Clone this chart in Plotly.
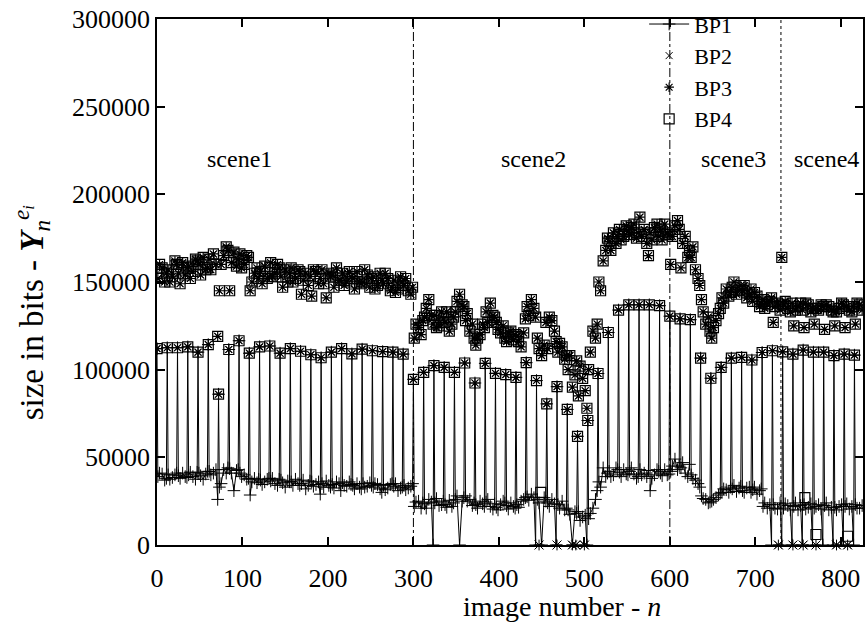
import plotly.graph_objects as go

# ---------------- data (sizes in kbit) ----------------
X_MAX = 826
GOP = 12
i_frames = list(range(0, 817, GOP))          # intra-coded image numbers
offsets = [1, 3, 6, 9, 11]                    # sampled positions inside each GOP

# I-image sizes
i_vals = [112, 112.5, 112.5, 113, 110, 114.3, 86, 111.5, 116.5, 109.4, 113, 113.5, 109.4,
          112, 110.5, 108.5, 106.8, 110, 112, 109, 111.7, 110.8, 110.3, 110, 108.9,
          94.5, 98.5, 102.3, 101.3, 98.5, 103.8, 92.4, 103.6, 97.9, 97.2, 95.6, 104, 93.8,
          80.5, 90.3, 77.3, 62, 71,
          97.8, 121.2, 134, 137, 137, 137, 136.5, 130.5, 129, 128.5, 106.6, 95.1, 101.3,
          106.6, 107, 105.5,
          109.8, 110.8, 110.2, 108.9, 111.2, 110, 110, 108, 108.9, 108.3]

# BP1 sizes of the other images (offsets 1, 3, 6, 9, 11 of each GOP)
bp1_low = [
    [39, 41, 40.5, 37, 38], [40, 37.5, 38.5, 40, 41], [39.5, 38, 41, 39, 38.5],
    [40, 41.5, 39, 37.5, 41.5], [41, 39.5, 37.5, 40.5, 42], [42, 40, 41, 43, 26],
    [33, 35, 43, 41, 44], [43.5, 41, 31, 42.5, 43], [41, 39, 40, 37.5, 38],
    [28.5, 36, 38, 35.5, 37.5], [37, 34.5, 36, 37.5, 38], [36.5, 38, 35, 34, 37.5],
    [37, 35.5, 33, 36.5, 36], [36, 34, 37.5, 35, 34], [35, 37, 32, 34, 36.5],
    [36, 33.5, 34.5, 36, 29], [35, 33, 36.5, 34, 33], [34.5, 32.5, 36, 35, 31],
    [35.5, 34, 33.5, 36, 34.5], [34, 32, 35, 33, 32], [35, 33, 33.5, 35.5, 34],
    [33, 35, 34.5, 32, 30], [34, 31.5, 32.5, 34.5, 35], [33.5, 35, 31, 32.5, 33],
    [34, 31.5, 32.5, 33.5, 35],
    [22, 24.5, 25, 21, 24], [23.5, 21, 26, 24.5, 0], [24, 26.5, 22.5, 23, 25],
    [23, 21.5, 25.5, 22, 24], [26, 28, 0, 25, 27], [28, 25, 26, 22.5, 24],
    [23, 21, 25, 23.5, 22], [24.5, 26, 22, 20.5, 23.5], [21.5, 20, 23, 25, 24],
    [22.5, 20.5, 24, 22, 21], [23, 21.5, 25, 26, 27], [27.5, 25.5, 29, 27, 0],
    [26, 24, 0, 27, 25], [24, 22, 26, 23.5, 0], [23, 21, 25, 20, 21],
    [20, 17.5, 0, 19, 18], [19, 14, 16, 17, 0], [15, 18, 21, 26, 31],
    [36, 33, 44, 39, 41], [42, 39, 40, 44, 43], [41.5, 39, 43, 40.5, 40],
    [42, 44, 40.5, 38, 39], [43, 40, 41, 39, 42.5], [31, 38, 40, 43, 42],
    [41, 39.5, 43, 40, 40.5], [42, 45, 49, 43, 45], [44, 47, 41, 39, 46],
    [40, 38, 37, 35, 33], [28, 26.5, 26, 24, 24.5], [25, 26, 27, 28.5, 29.5],
    [30, 32, 31.5, 30, 33], [32, 34, 30.5, 32.5, 33.5], [31, 30, 32.5, 33, 30],
    [31.5, 33, 29, 31, 32],
    [22, 24, 21, 23, 0], [23, 21, 20.5, 24, 0], [21, 23.5, 22.5, 20, 0],
    [22, 24, 20, 22.5, 0], [23, 20.5, 21.5, 23.5, 0], [21, 22, 23, 20.5, 0],
    [22.5, 24, 20, 21.5, 0], [21.5, 20, 22, 23, 0], [22, 23.5, 20.5, 22, 0],
    [23, 21, 21, 22.5, 22],
]

# BP2..BP4 sizes of the other images (offsets 1, 3, 6, 9, 11 of each GOP)
upper = [
    [152, 160, 158, 150, 155], [157, 150, 153, 162, 160], [155, 149, 161, 154, 158],
    [159, 152, 156, 163, 162], [160, 154, 164, 157, 158], [163, 157, 166, 160, 119],
    [145, 160, 165, 170, 168], [145, 161, 167, 159, 163], [166, 158, 160, 165, 164],
    [145, 150, 155, 158, 152], [156, 149, 159, 152, 153], [161, 153, 155, 160, 158],
    [153, 147, 157, 150, 155], [158, 150, 152, 157, 156], [143, 151, 155, 148, 153],
    [142, 157, 156, 149, 152], [157, 149, 141, 155, 153], [154, 147, 158, 151, 151],
    [155, 148, 150, 156, 153], [152, 146, 156, 150, 149], [150, 157, 154, 147, 152],
    [153, 146, 148, 155, 151], [149, 155, 152, 145, 147], [151, 144, 146, 153, 150],
    [148, 152, 145, 143, 147],
    [118, 126, 124, 120, 128], [130, 135, 140, 131, 126], [131, 124, 125, 133, 129],
    [127, 133, 122, 126, 130], [133, 139, 143, 137, 136], [128, 132, 122, 126, 118],
    [114, 118, 120, 126, 124], [133, 127, 138, 131, 130], [127, 123, 121, 125, 118],
    [116, 121, 122, 117, 120], [119, 116, 113, 121, 129], [136, 131, 140, 135, 130],
    [118, 112, 108, 114, 127], [112, 130, 128, 122, 116], [110, 115, 113, 106, 108],
    [100, 108, 90, 97, 105], [85, 102, 95, 88, 78], [100, 110, 122, 118, 126],
    [150, 145, 162, 168, 175], [173, 168, 178, 172, 176], [180, 174, 176, 182, 179],
    [177, 181, 183, 175, 178], [187, 176, 180, 172, 165], [178, 174, 181, 183, 176],
    [179, 174, 183, 178, 177], [160, 176, 182, 185, 180], [158, 172, 176, 164, 168],
    [164, 170, 157, 152, 148], [140, 133, 126, 130, 122], [118, 124, 128, 132, 135],
    [141, 138, 146, 142, 144], [147, 150, 143, 145, 148], [145, 148, 141, 143, 146],
    [139, 144, 142, 136, 138],
    [140, 135, 137, 139, 141], [127, 136, 138, 134, 164], [137, 139, 135, 133, 138],
    [125, 134, 136, 138, 134], [124, 138, 137, 133, 135], [126, 135, 134, 137, 136],
    [123, 137, 136, 134, 133], [125, 133, 135, 138, 137], [124, 136, 134, 133, 136],
    [126, 138, 137, 134, 135],
]

# skipped images (size 0) for BP2 / BP3, and low BP4 values
bp23_zero_frames = [447, 468, 486, 490, 500, 727, 744, 756, 771, 795, 808]
bp4_low_frames = [449, 758, 771, 808]
bp4_low_vals = [30, 27, 6, 5]

scene_bounds = [300, 600, 730]
scene_dash = ["dashdot", "dashdot", "dot"]
scene_names = ["scene1", "scene2", "scene3", "scene4"]
scene_label_x = [97, 441, 674, 783]
scene_label_y = 220000

x_ticks = list(range(0, 801, 100))
y_ticks = list(range(0, 300001, 50000))

x_title = "image number - <i>n</i>"
y_title = "size in bits - <b><i>Y</i></b><sub><i>n</i></sub><sup><i>e<sub>i</sub></i></sup>"

# ---------------- build series ----------------
def build(i_list, others):
    xs, ys = [], []
    for k, f in enumerate(i_frames):
        pts = [(f, i_list[k])] + [(f + o, others[k][j]) for j, o in enumerate(offsets)]
        for x, v in pts:
            if x < X_MAX:
                xs.append(x)
                ys.append(v * 1000)
    return xs, ys

bp1_x, bp1_y = build(i_vals, bp1_low)
up_x, up_y = build(i_vals, upper)

FONT = "Liberation Serif, Times New Roman, serif"
fig = go.Figure()

fig.add_trace(go.Scatter(
    x=bp1_x, y=bp1_y, mode="lines+markers", name="BP1",
    line=dict(color="black", width=1),
    marker=dict(symbol="cross-thin-open", size=9, color="black", line=dict(width=1, color="black")),
))
fig.add_trace(go.Scatter(
    x=up_x, y=up_y, mode="markers", name="BP2",
    marker=dict(symbol="x-thin-open", size=7, color="black", line=dict(width=1, color="black")),
))
fig.add_trace(go.Scatter(
    x=up_x, y=up_y, mode="markers", name="BP3",
    marker=dict(symbol="asterisk-open", size=8, color="black", line=dict(width=1.2, color="black")),
))
fig.add_trace(go.Scatter(
    x=up_x + bp4_low_frames, y=up_y + [v * 1000 for v in bp4_low_vals], mode="markers", name="BP4",
    marker=dict(symbol="square-open", size=10, color="black", line=dict(width=1.2, color="black")),
))
fig.add_trace(go.Scatter(
    x=bp23_zero_frames, y=[0] * len(bp23_zero_frames), mode="markers", showlegend=False,
    cliponaxis=False,
    marker=dict(symbol="x-thin-open", size=9, color="black", line=dict(width=1, color="black")),
))
fig.add_trace(go.Scatter(
    x=bp23_zero_frames, y=[0] * len(bp23_zero_frames), mode="markers", showlegend=False,
    cliponaxis=False,
    marker=dict(symbol="asterisk-open", size=9, color="black", line=dict(width=1, color="black")),
))

for b, d in zip(scene_bounds, scene_dash):
    fig.add_shape(type="line", xref="x", yref="paper", x0=b, x1=b, y0=0, y1=1,
                  line=dict(color="black", width=1, dash=d), layer="below")

for name, sx in zip(scene_names, scene_label_x):
    fig.add_annotation(x=sx, y=scene_label_y, text=name, showarrow=False,
                       font=dict(family=FONT, size=24, color="black"))

# axis titles (placed like the original, slightly off-centre)
fig.add_annotation(xref="paper", yref="paper", x=0.573, y=-0.116, text=x_title,
                   showarrow=False, xanchor="center", yanchor="middle",
                   font=dict(family=FONT, size=28, color="black"))
fig.add_annotation(xref="paper", yref="paper", x=-0.178, y=0.441, text=y_title,
                   showarrow=False, xanchor="center", yanchor="middle", textangle=-90,
                   font=dict(family=FONT, size=33, color="black"))

axis_common = dict(showline=True, linecolor="black", linewidth=1.5, mirror="ticks",
                   ticks="inside", ticklen=8, tickcolor="black", tickwidth=1.5,
                   showgrid=False, zeroline=False,
                   tickfont=dict(family=FONT, size=26, color="black"))

fig.update_layout(
    width=868, height=627,
    margin=dict(l=157, r=3, t=17, b=82),
    paper_bgcolor="white", plot_bgcolor="white",
    font=dict(family=FONT, color="black"),
    xaxis=dict(range=[0, X_MAX], tickvals=x_ticks, ticklabelstandoff=9, **axis_common),
    yaxis=dict(range=[0, 300000], tickvals=y_ticks, tickformat="d", **axis_common),
    legend=dict(x=0.69, y=1.03, xanchor="left", yanchor="top", bgcolor="rgba(0,0,0,0)",
                font=dict(family=FONT, size=22, color="black"), tracegroupgap=0,
                itemwidth=40),
    showlegend=True,
)

fig.write_html("out.html")
